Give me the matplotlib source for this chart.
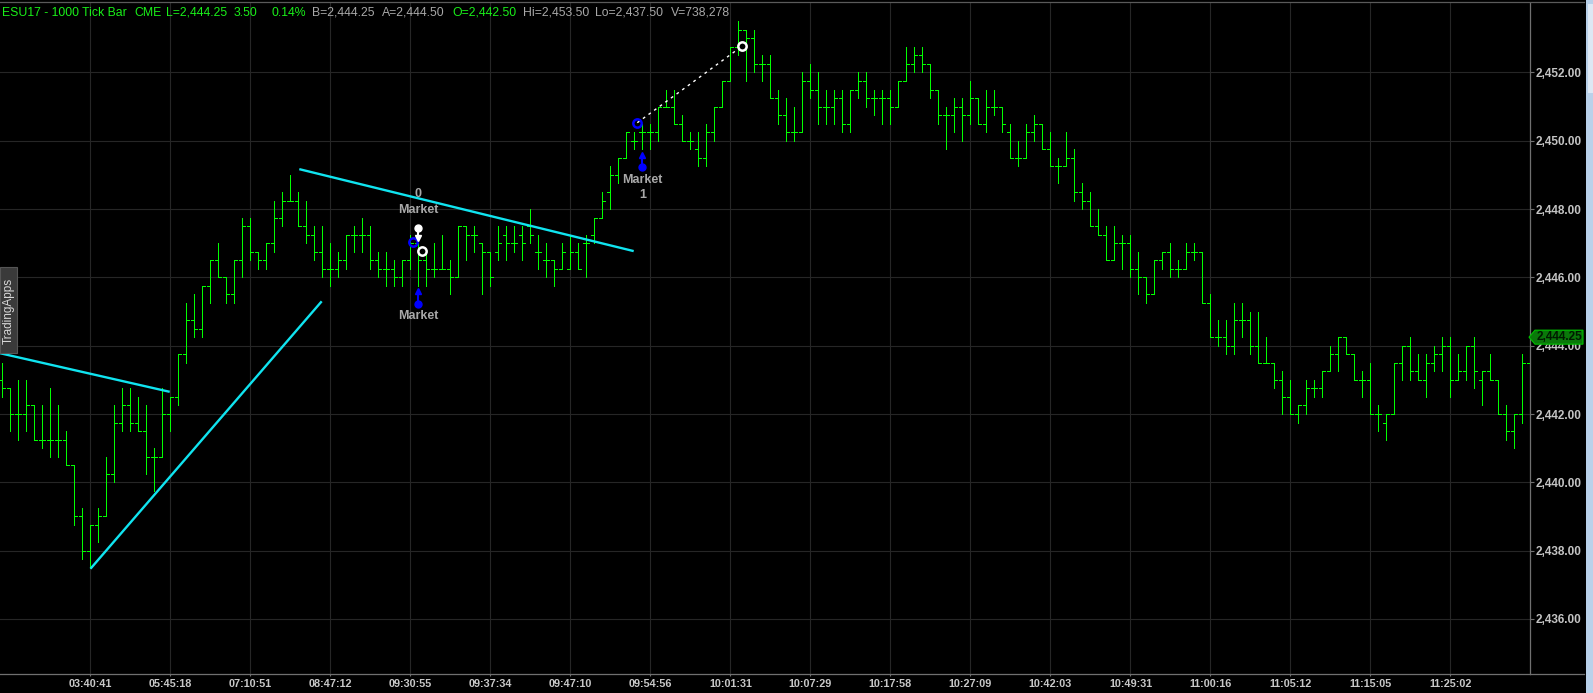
import matplotlib
matplotlib.use('Agg')
import matplotlib.pyplot as plt
from matplotlib.collections import LineCollection
from matplotlib.lines import Line2D
from matplotlib.patches import Polygon, Rectangle
from matplotlib.transforms import blended_transform_factory

# ESU17 1000 tick bars (bar 0 = leftmost, partly cut off)
opens = [
    2443.0, 2442.75, 2442.0, 2442.0, 2442.25, 2441.25, 2441.25, 2441.25, 2441.25, 2440.5,
    2439.0, 2438.0, 2438.75, 2439.0, 2440.25, 2441.75, 2442.25, 2441.75, 2441.5, 2440.75,
    2440.75, 2442.0, 2442.5, 2443.75, 2444.75, 2444.5, 2445.75, 2446.5, 2446.0, 2445.5,
    2446.5, 2447.5, 2446.75, 2446.5, 2447.0, 2447.75, 2448.25, 2448.25, 2447.5, 2447.25,
    2446.75, 2446.25, 2446.25, 2446.5, 2447.25, 2447.25, 2447.25, 2446.5, 2446.25, 2446.25,
    2446.0, 2446.5, 2447.0, 2446.5, 2446.25, 2446.25, 2446.25, 2446.0, 2447.5, 2447.25,
    2447.0, 2446.75, 2446.75, 2447.25, 2447.0, 2447.25, 2447.5, 2446.75, 2446.5, 2446.5,
    2446.25, 2446.25, 2446.75, 2447.0, 2447.25, 2447.75, 2448.5, 2449.0, 2449.5, 2450.0,
    2450.25, 2450.25, 2450.25, 2451.0, 2451.0, 2450.5, 2450.0, 2449.75, 2449.5, 2450.25,
    2451.0, 2451.75, 2452.75, 2453.25, 2453.0, 2452.25, 2452.25, 2451.25, 2450.75, 2450.25,
    2450.25, 2451.75, 2451.5, 2451.0, 2451.0, 2451.25, 2450.5, 2451.5, 2451.75, 2451.25,
    2451.25, 2451.25, 2451.0, 2451.75, 2452.25, 2452.5, 2452.25, 2451.5, 2450.75, 2450.75,
    2451.0, 2450.75, 2451.25, 2450.5, 2451.0, 2451.0, 2450.25, 2449.5, 2449.5, 2450.25,
    2450.5, 2449.75, 2449.25, 2449.25, 2449.5, 2448.5, 2448.25, 2447.5, 2447.25, 2446.5,
    2447.0, 2447.0, 2446.25, 2446.0, 2445.5, 2446.5, 2446.75, 2446.25, 2446.25, 2446.75,
    2446.75, 2445.25, 2444.25, 2444.25, 2444.0, 2444.75, 2444.75, 2444.0, 2443.5, 2443.5,
    2443.0, 2442.5, 2442.0, 2442.25, 2442.75, 2442.75, 2443.25, 2443.75, 2444.25, 2443.75,
    2443.0, 2443.0, 2442.0, 2441.75, 2442.0, 2443.5, 2444.0, 2443.25, 2443.0, 2443.5,
    2443.75, 2444.0, 2443.0, 2443.25, 2444.0, 2443.0, 2443.25, 2443.0, 2442.0, 2441.5,
    2442.0, 2443.5,
]
highs = [
    2443.5, 2442.75, 2443.0, 2443.0, 2442.25, 2442.25, 2442.75, 2442.25, 2441.5, 2440.5,
    2439.25, 2438.75, 2439.25, 2440.75, 2442.25, 2442.75, 2442.75, 2442.5, 2442.25, 2441.0,
    2442.75, 2442.5, 2443.75, 2445.25, 2445.5, 2445.75, 2446.5, 2447.0, 2446.0, 2446.5,
    2447.75, 2447.75, 2446.75, 2447.0, 2448.25, 2448.5, 2449.0, 2448.5, 2448.25, 2447.5,
    2447.5, 2447.0, 2446.75, 2447.25, 2447.5, 2447.75, 2447.5, 2446.75, 2446.75, 2446.5,
    2446.5, 2447.25, 2447.0, 2446.75, 2447.0, 2447.25, 2446.5, 2447.5, 2447.5, 2447.5,
    2447.0, 2446.75, 2447.5, 2447.5, 2447.5, 2447.5, 2448.0, 2447.25, 2447.0, 2446.5,
    2447.0, 2447.25, 2447.0, 2447.25, 2447.75, 2448.5, 2449.25, 2449.5, 2450.25, 2450.25,
    2450.5, 2450.5, 2451.0, 2451.5, 2451.5, 2450.75, 2450.25, 2450.25, 2450.5, 2451.0,
    2451.75, 2452.75, 2453.5, 2453.25, 2453.25, 2452.5, 2452.5, 2451.5, 2451.25, 2451.0,
    2452.0, 2452.25, 2452.0, 2451.5, 2451.5, 2451.5, 2451.5, 2452.0, 2452.0, 2451.5,
    2451.5, 2451.5, 2451.75, 2452.75, 2452.75, 2452.75, 2452.25, 2451.5, 2451.0, 2451.25,
    2451.25, 2451.75, 2451.25, 2451.5, 2451.5, 2451.0, 2450.5, 2450.0, 2450.5, 2450.75,
    2450.5, 2450.25, 2449.5, 2450.25, 2449.75, 2448.75, 2448.5, 2448.0, 2447.5, 2447.5,
    2447.25, 2447.25, 2446.75, 2446.0, 2446.5, 2446.75, 2447.0, 2446.5, 2447.0, 2447.0,
    2446.75, 2445.5, 2444.75, 2444.75, 2445.25, 2445.25, 2445.0, 2445.0, 2444.25, 2443.5,
    2443.25, 2443.0, 2442.25, 2443.0, 2443.0, 2443.25, 2444.0, 2444.25, 2444.25, 2443.75,
    2443.25, 2443.5, 2442.25, 2442.0, 2443.5, 2444.0, 2444.25, 2443.75, 2443.75, 2444.0,
    2444.25, 2444.25, 2443.75, 2444.0, 2444.25, 2443.25, 2443.75, 2443.0, 2442.25, 2442.0,
    2443.75, 2444.25,
]
lows = [
    2442.5, 2441.5, 2441.25, 2441.5, 2441.25, 2441.0, 2440.75, 2440.75, 2440.5, 2438.75,
    2437.75, 2437.5, 2438.25, 2439.0, 2440.0, 2441.5, 2441.5, 2441.5, 2440.25, 2439.75,
    2440.75, 2441.5, 2442.25, 2443.5, 2444.25, 2444.25, 2445.25, 2446.0, 2445.25, 2445.25,
    2446.0, 2446.5, 2446.25, 2446.25, 2446.75, 2447.5, 2448.25, 2447.5, 2447.0, 2446.5,
    2446.0, 2445.75, 2446.0, 2446.25, 2446.75, 2446.75, 2446.25, 2446.0, 2445.75, 2445.75,
    2445.75, 2446.25, 2445.75, 2445.75, 2446.0, 2446.25, 2445.5, 2446.0, 2446.5, 2446.75,
    2445.5, 2445.75, 2446.5, 2446.5, 2446.75, 2446.5, 2447.0, 2446.25, 2446.0, 2445.75,
    2446.25, 2446.25, 2446.25, 2446.0, 2447.0, 2447.75, 2448.0, 2448.75, 2449.5, 2449.75,
    2449.75, 2449.75, 2450.0, 2451.0, 2450.5, 2450.0, 2449.75, 2449.25, 2449.25, 2450.0,
    2451.0, 2451.75, 2452.5, 2451.75, 2452.0, 2451.75, 2451.25, 2450.5, 2450.0, 2450.0,
    2450.25, 2451.25, 2450.5, 2450.5, 2450.5, 2450.25, 2450.25, 2451.25, 2451.0, 2450.75,
    2450.5, 2450.5, 2451.0, 2451.75, 2452.0, 2452.0, 2451.25, 2450.5, 2449.75, 2450.25,
    2450.0, 2450.5, 2450.5, 2450.25, 2450.75, 2450.25, 2449.5, 2449.25, 2449.5, 2450.0,
    2449.75, 2449.25, 2448.75, 2449.25, 2448.25, 2448.0, 2447.5, 2447.25, 2446.5, 2446.5,
    2446.25, 2446.0, 2445.5, 2445.25, 2445.5, 2446.25, 2446.0, 2446.0, 2446.25, 2446.5,
    2445.25, 2444.25, 2444.0, 2443.75, 2443.75, 2444.25, 2443.75, 2443.5, 2443.5, 2442.75,
    2442.0, 2442.0, 2441.75, 2442.0, 2442.5, 2442.5, 2443.25, 2443.25, 2443.75, 2443.0,
    2442.5, 2442.0, 2441.5, 2441.25, 2442.0, 2443.0, 2443.0, 2443.0, 2442.5, 2443.25,
    2443.25, 2442.5, 2443.0, 2443.0, 2442.75, 2442.25, 2443.0, 2442.0, 2441.25, 2441.0,
    2441.75, 2443.5,
]
closes = [
    2442.75, 2442.0, 2442.0, 2442.25, 2441.25, 2441.25, 2441.25, 2441.25, 2440.5, 2439.0,
    2438.0, 2438.75, 2439.0, 2440.25, 2441.75, 2442.25, 2441.75, 2441.5, 2440.75, 2440.75,
    2442.0, 2442.5, 2443.75, 2444.75, 2444.5, 2445.75, 2446.5, 2446.0, 2445.5, 2446.5,
    2447.5, 2446.75, 2446.5, 2447.0, 2447.75, 2448.25, 2448.25, 2447.5, 2447.25, 2446.75,
    2446.25, 2446.25, 2446.5, 2447.25, 2447.25, 2447.25, 2446.5, 2446.25, 2446.25, 2446.0,
    2446.5, 2447.0, 2446.5, 2446.25, 2446.25, 2446.25, 2446.0, 2447.5, 2447.25, 2447.25,
    2446.75, 2446.0, 2447.0, 2447.0, 2447.0, 2447.0, 2447.25, 2446.75, 2446.5, 2446.25,
    2446.75, 2446.75, 2446.25, 2447.0, 2447.75, 2448.25, 2449.0, 2449.5, 2450.25, 2450.0,
    2450.25, 2450.25, 2451.0, 2451.0, 2450.5, 2450.0, 2450.0, 2449.5, 2450.25, 2451.0,
    2451.75, 2452.75, 2453.25, 2453.0, 2452.25, 2452.25, 2451.25, 2450.75, 2450.25, 2450.25,
    2451.75, 2451.5, 2451.0, 2451.0, 2451.25, 2450.5, 2451.5, 2451.75, 2451.25, 2451.25,
    2451.25, 2451.0, 2451.75, 2452.25, 2452.5, 2452.25, 2451.5, 2450.75, 2450.75, 2451.0,
    2450.75, 2451.25, 2450.5, 2451.0, 2451.0, 2450.5, 2449.5, 2449.5, 2450.25, 2450.5,
    2449.75, 2449.25, 2449.25, 2449.5, 2448.5, 2448.25, 2447.5, 2447.25, 2446.5, 2447.0,
    2447.0, 2446.25, 2446.0, 2445.5, 2446.5, 2446.75, 2446.25, 2446.25, 2446.75, 2446.75,
    2445.25, 2444.25, 2444.25, 2444.0, 2444.75, 2444.75, 2444.0, 2443.5, 2443.5, 2443.0,
    2442.5, 2442.0, 2442.25, 2442.75, 2442.75, 2443.25, 2443.75, 2444.25, 2443.75, 2443.0,
    2443.0, 2442.0, 2442.0, 2442.0, 2443.5, 2444.0, 2443.25, 2443.0, 2443.5, 2443.75,
    2444.0, 2443.0, 2443.25, 2444.0, 2443.25, 2443.25, 2443.0, 2442.0, 2441.5, 2442.0,
    2443.5, 2444.25,
]

tick_idx = [11, 21, 31, 41, 51, 61, 71, 81, 91, 101, 111, 121, 131, 141, 151, 161, 171, 181]
tick_labels = ['03:40:41', '05:45:18', '07:10:51', '08:47:12', '09:30:55', '09:37:34',
               '09:47:10', '09:54:56', '10:01:31', '10:07:29', '10:17:58', '10:27:09',
               '10:42:03', '10:49:31', '11:00:16', '11:05:12', '11:15:05', '11:25:02']
price_ticks = [2436, 2438, 2440, 2442, 2444, 2446, 2448, 2450, 2452]
last_price = 2444.25

# drawn objects on the chart (bar index, price)
trend_lines = [[(-0.3, 2443.78), (20.9, 2442.65)],
               [(11.0, 2437.47), (39.9, 2445.3)],
               [(37.1, 2449.17), (78.9, 2446.77)]]
fill_link = [(79.35, 2450.53), (92.5, 2452.78)]
entry_rings = [(79.35, 2450.53), (51.3, 2447.05)]
exit_rings = [(92.5, 2452.78), (52.5, 2446.78)]
buy_arrows = [(52.0, 2445.22, 2445.6), (80.0, 2449.24, 2449.58)]
sell_pin = (52.0, 2447.46, 2447.15)
order_text = [(52.0, 2448.44, '0'), (52.0, 2447.96, 'Market'), (52.0, 2444.86, 'Market'),
              (80.0, 2448.85, 'Market'), (80.0, 2448.41, '1')]

header = [('ESU17 - 1000 Tick Bar', 1.5, 'g'), ('CME', 134, 'g'), ('L=2,444.25', 166, 'g'),
          ('3.50', 234, 'g'), ('0.14%', 272, 'g'), ('B=2,444.25', 312, 'w'),
          ('A=2,444.50', 382, 'w'), ('O=2,442.50', 452, 'g'), ('Hi=2,453.50', 523, 'w'),
          ('Lo=2,437.50', 595, 'w'), ('V=738,278', 671, 'w')]

sans = ['Liberation Sans', 'DejaVu Sans']
W, H = 1593, 693
BAR_GREEN = '#00ff00'
GRID = '#262626'
AXIS = '#707070'

fig = plt.figure(figsize=(W / 100, H / 100), dpi=100, facecolor='black')
ax = fig.add_axes([0, (H - 674) / H, 1530 / W, (674 - 3) / H], facecolor='black')
ax.set_xlim(-0.3125, 190.9375)
ax.set_ylim(2434.387, 2454.035)

# OHLC bars
segs = []
for i, (o, h, l, c) in enumerate(zip(opens, highs, lows, closes)):
    segs.append([(i, l), (i, h)])
    segs.append([(i - 0.375, o), (i, o)])
    segs.append([(i, c), (i + 0.375, c)])
ax.add_collection(LineCollection(segs, colors=BAR_GREEN, linewidths=0.72,
                                 antialiaseds=False, zorder=3))

# axes look
ax.set_xticks(tick_idx)
ax.set_xticklabels(tick_labels)
ax.yaxis.tick_right()
ax.set_yticks(price_ticks)
ax.set_yticklabels([f'{p:,.2f}' for p in price_ticks])
ax.grid(True, color=GRID, lw=0.8)
ax.set_axisbelow(True)
for s in ['top', 'left']:
    ax.spines[s].set_visible(False)
for s in ['bottom', 'right']:
    ax.spines[s].set_color(AXIS)
    ax.spines[s].set_linewidth(0.9)
ax.tick_params(axis='y', direction='out', length=3, width=0.8, color=AXIS, pad=1,
               labelsize=8.5, labelcolor='#c4c4c4')
ax.tick_params(axis='x', direction='out', length=1.5, width=0.8, color=AXIS, pad=2.2,
               labelsize=7.8, labelcolor='#c8c8c8')
for lbl in ax.get_yticklabels() + ax.get_xticklabels():
    lbl.set_fontfamily(sans)
    lbl.set_fontweight('bold')

# trend lines and trade marks
for (x0, y0), (x1, y1) in trend_lines:
    ax.plot([x0, x1], [y0, y1], color='#10e4f0', lw=1.7, zorder=4, solid_capstyle='butt')
ax.plot([p[0] for p in fill_link], [p[1] for p in fill_link], color='white', lw=1.0,
        ls=(0, (2, 3)), zorder=4)
for x, y in entry_rings:
    ax.plot(x, y, 'o', ms=6, mfc='none', mec='#0000ff', mew=1.8, zorder=6)
for x, y in exit_rings:
    ax.plot(x, y, 'o', ms=6, mfc='black', mec='white', mew=1.8, zorder=6)
for x, yb, yt in buy_arrows:
    ax.plot([x, x], [yb, yt], color='#0000ff', lw=1.5, zorder=6)
    ax.plot(x, yb, 'o', ms=5, color='#0000ff', zorder=6)
    ax.plot(x, yt, '^', ms=4.5, color='#0000ff', zorder=6)
x, yt, yb = sell_pin
ax.plot([x, x], [yb, yt], color='white', lw=1.5, zorder=6)
ax.plot(x, yt, 'o', ms=5, color='white', zorder=6)
ax.plot(x, yb, 'v', ms=4, color='white', zorder=6)
for x, y, s in order_text:
    ax.text(x, y, s, color='#a8a8a8', fontsize=9, fontweight='bold', family=sans,
            ha='center', va='center', zorder=7)

# last price flag on the price scale
tr = blended_transform_factory(ax.transAxes, ax.transData)
hh = 7 / 34.15
flag = [(1529 / 1530, last_price), (1535 / 1530, last_price + hh), (1583 / 1530, last_price + hh),
        (1583 / 1530, last_price - hh), (1535 / 1530, last_price - hh)]
ax.add_patch(Polygon(flag, closed=True, transform=tr, clip_on=False, fc='#0a780a',
                     ec='#00c000', lw=0.8, zorder=8))
ax.text(1537 / 1530, last_price, f'{last_price:,.2f}', transform=tr, clip_on=False,
        color='#001a00', fontsize=8.5, fontweight='bold', family=sans, ha='left',
        va='center', zorder=9)

# window chrome
fig.add_artist(Line2D([1530 / W, 1584 / W], [(H - 674) / H] * 2, color=AXIS, lw=0.9))
fig.add_artist(Line2D([0, 1584 / W], [1 - 2 / H] * 2, color='#5a5a5a', lw=0.9))
fig.add_artist(Rectangle((1586 / W, 0), 7 / W, 1, transform=fig.transFigure,
                         fc='#b9d1ea', ec='none'))
fig.add_artist(Rectangle((1588 / W, 1 - 93 / H), 5 / W, 89 / H, transform=fig.transFigure,
                         fc='#dde8f4', ec='none'))
fig.add_artist(Rectangle((0, 1 - 353 / H), 17 / W, 86 / H, transform=fig.transFigure,
                         fc='#3a3a3a', ec='#555555', lw=0.8))
fig.text(8.5 / W, 1 - 311 / H, 'TradingApps', rotation=90, color='#d8d8d8', fontsize=8.5,
         family=sans, ha='center', va='center')

colors = {'g': '#19f019', 'w': '#a8a8a8'}
for s, x, c in header:
    fig.text(x / W, 1 - 12.5 / H, s, color=colors[c], fontsize=8.8, family=sans,
             ha='left', va='center')

fig.savefig('out.png', dpi=100, facecolor='black')
